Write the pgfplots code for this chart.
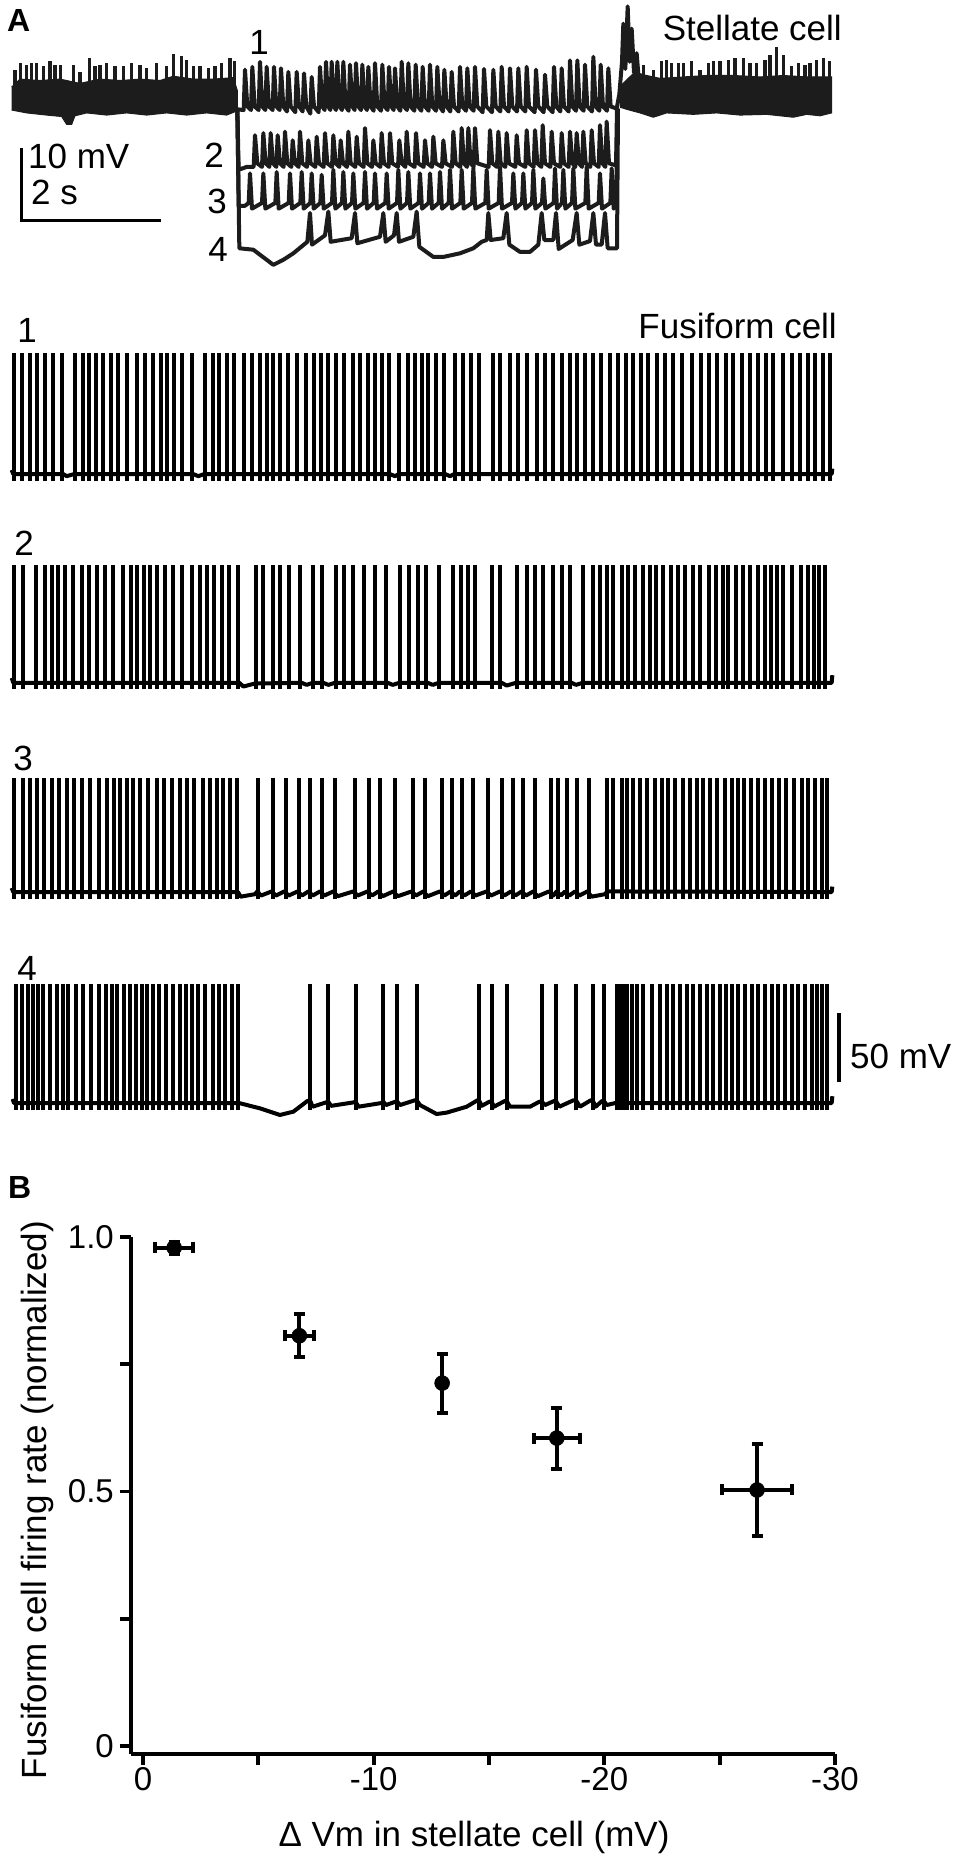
\documentclass[border=0pt]{standalone}
\usepackage{fontspec}
\setmainfont{Liberation Sans}
\usepackage{pgfplots}
\pgfplotsset{compat=1.18}
\definecolor{stel}{RGB}{28,28,28}
\newcommand{\fs}{\fontsize{35}{40}\selectfont}
\pgfplotsset{
  ephys/.style={scale only axis, width=957pt, xmin=0, xmax=2871, hide axis, clip=false, anchor=south west},
  spk/.style={ycomb, black, line width=4pt},
  base/.style={black, line width=4pt, line join=round},
  st/.style={stel, line width=4pt, line join=round},
}
\begin{document}
\begin{tikzpicture}
\useasboundingbox (0,0) rectangle (957pt,-1857pt);

% ---------------- Stellate cell (x: time in 1/210 s samples, y: mV re. rest)
\begin{axis}[ephys, at={(0pt,-285pt)}, height=288pt, ymin=-25, ymax=15]
% noisy band, left
\addplot[fill=stel, draw=stel, line width=1pt] coordinates {
(35,2.5) (60,3.6) (120,3.4) (180,3.6) (240,3.0) (300,3.6) (360,3.4) (420,3.6) (480,3.4) (520,4.0) (580,3.6) (640,3.6) (700,3.8) (712,2.0)
(712,-0.8) (680,-1.4) (620,-1.1) (560,-1.4) (500,-1.1) (440,-1.4) (380,-1.1) (320,-1.4) (260,-1.1) (225,-1.5) (215,-2.7) (200,-2.7) (185,-1.6) (140,-1.4) (80,-1.1) (35,-0.7)};
\addplot[ycomb, stel, line width=3.6pt] coordinates {
(45,4.9) (62,5.9) (80,5.6) (95,5.9) (110,5.9) (130,5.4) (150,6.1) (165,5.6) (182,5.6) (220,5.6) (240,4.6) (268,6.5) (285,5.4) (300,5.6) (320,5.9) (345,5.4) (370,5.4) (395,5.9) (420,5.6) (440,5.2) (470,5.9) (500,5.4) (520,7.1) (545,6.8) (560,6.3) (580,5.4) (600,5.4) (625,5.2) (645,5.4) (665,5.9) (690,6.5) (703,6.1)};
% trace 1 (middle) + large spike
\addplot[st] coordinates {
(712,-0.6)
(731,-0.7) (735,4.9) (742,-0.2) (753,-0.7) (757,5.3) (764,-0.2) (776,-0.7) (780,6.0) (787,-0.2) (796,-0.7) (800,5.3) (807,-0.2)
(818,-0.7) (822,5.3) (829,-0.2) (839,-0.7) (843,5.1) (850,-0.2) (861,-0.9) (865,4.6) (872,-0.2) (886,-1.0) (890,4.6) (897,-0.2)
(908,-0.9) (912,4.4) (919,-0.2) (931,-1.2) (935,3.9) (942,-0.2) (956,-1.0) (960,5.3) (967,-0.2) (974,-0.7) (978,6.0) (985,-0.2)
(991,-0.7) (995,6.0) (1002,-0.2) (1008,-0.7) (1012,6.0) (1019,-0.2) (1026,-0.7) (1030,6.0) (1037,-0.2) (1046,-0.8) (1050,5.6) (1057,-0.2)
(1064,-0.7) (1068,5.8) (1075,-0.2) (1083,-0.7) (1087,5.6) (1094,-0.2) (1101,-0.7) (1105,5.3) (1112,-0.2) (1121,-0.8) (1125,5.8) (1132,-0.2)
(1143,-0.8) (1147,5.6) (1154,-0.2) (1163,-0.7) (1167,5.3) (1174,-0.2) (1181,-0.7) (1185,5.1) (1192,-0.2) (1201,-0.8) (1205,6.0) (1212,-0.2)
(1221,-0.7) (1225,5.8) (1232,-0.2) (1243,-0.8) (1247,5.6) (1254,-0.2) (1264,-0.8) (1268,5.3) (1275,-0.2) (1286,-0.8) (1290,5.6) (1297,-0.2)
(1308,-0.8) (1312,5.3) (1319,-0.2) (1329,-0.9) (1333,4.9) (1340,-0.2) (1351,-0.9) (1355,4.6) (1362,-0.2) (1376,-0.9) (1380,5.3) (1387,-0.2)
(1398,-0.8) (1402,5.1) (1409,-0.2) (1421,-0.8) (1425,5.3) (1432,-0.2) (1448,-1.0) (1452,5.0) (1459,-0.2) (1476,-1.0) (1480,4.9) (1487,-0.2)
(1501,-0.9) (1505,5.3) (1512,-0.2) (1526,-0.9) (1530,5.1) (1537,-0.2) (1551,-0.9) (1555,5.1) (1562,-0.2) (1576,-0.9) (1580,5.3) (1587,-0.2)
(1604,-1.0) (1608,4.9) (1615,-0.2) (1631,-1.0) (1635,4.2) (1642,-0.2) (1658,-1.0) (1662,5.3) (1669,-0.2) (1681,-0.9) (1685,5.1) (1692,-0.2)
(1706,-0.9) (1710,6.2) (1717,-0.2) (1728,-0.8) (1732,6.2) (1739,-0.2) (1751,-0.8) (1755,5.6) (1762,-0.2) (1776,-0.9) (1780,6.7) (1787,-0.2)
(1798,-0.8) (1802,5.6) (1809,-0.2) (1821,-0.8) (1825,5.1) (1832,-0.2)
(1850,-0.5) (1858,1.5) (1866,6) (1870,11.3) (1876,5) (1883,13.7) (1889,6) (1895,10.6) (1902,4.5) (1910,7.2) (1918,2.5) (1930,1.5)};
% noisy band, right
\addplot[fill=stel, draw=stel, line width=1pt] coordinates {
(1858,2.5) (1905,4.6) (1930,4.2) (1980,3.7) (2050,3.9) (2120,4.1) (2200,4.1) (2280,3.9) (2350,4.1) (2420,3.9) (2495,3.9)
(2495,-1.1) (2460,-1.5) (2420,-1.3) (2380,-1.7) (2300,-1.3) (2220,-1.4) (2150,-1.1) (2080,-1.3) (2000,-1.1) (1960,-1.7) (1920,-1.1) (1880,-0.6) (1860,-0.3)};
\addplot[ycomb, stel, line width=3.6pt] coordinates {
(1930,5.6) (1960,4.9) (1985,6.1) (2000,6.3) (2015,5.9) (2035,5.9) (2050,5.9) (2075,6.1) (2100,4.9) (2125,5.9) (2140,6.1) (2160,6.1) (2185,6.3) (2205,6.5) (2230,6.5) (2250,5.9) (2270,5.9) (2295,6.3) (2310,7.0) (2330,8.1) (2350,7.0) (2375,5.4) (2395,5.9) (2415,5.6) (2430,5.9) (2450,6.3) (2470,6.5) (2488,6.1)};
% trace 2
\addplot[st] coordinates {
(712,-0.5) (716,-9.0) (740,-8.6)
(761,-8.6) (765,-4.2) (772,-8.1) (786,-8.6) (790,-3.9) (797,-8.1) (808,-8.6) (812,-3.9) (819,-8.1) (829,-8.6) (833,-4.2) (840,-8.1)
(851,-8.6) (855,-3.7) (862,-8.1) (874,-8.6) (878,-4.9) (885,-8.1) (896,-8.6) (900,-3.7) (907,-8.1) (921,-8.6) (925,-4.9) (932,-8.1)
(946,-8.6) (950,-4.4) (957,-8.1) (971,-8.6) (975,-3.9) (982,-8.1) (996,-8.6) (1000,-4.2) (1007,-8.1) (1018,-8.6) (1022,-4.9) (1029,-8.1)
(1041,-8.6) (1045,-3.7) (1052,-8.1) (1066,-8.6) (1070,-4.4) (1077,-8.1) (1091,-8.6) (1095,-3.2) (1102,-8.1) (1116,-8.6) (1120,-4.9) (1127,-8.1)
(1141,-8.6) (1145,-3.9) (1152,-8.1) (1166,-8.6) (1170,-3.9) (1177,-8.1) (1194,-8.6) (1198,-4.9) (1205,-8.1) (1216,-8.6) (1220,-3.7) (1227,-8.1)
(1244,-8.6) (1248,-3.9) (1255,-8.1) (1271,-8.6) (1275,-4.9) (1282,-8.1) (1296,-8.6) (1300,-4.4) (1307,-8.1) (1326,-8.6) (1330,-4.9) (1337,-8.1)
(1356,-8.6) (1360,-3.7) (1367,-8.1) (1381,-8.6) (1385,-3.2) (1392,-8.1) (1401,-8.6) (1405,-3.2) (1412,-8.1) (1421,-8.6) (1425,-3.2) (1432,-8.1)
(1466,-8.6) (1470,-3.5) (1477,-8.1) (1491,-8.6) (1495,-3.7) (1502,-8.1) (1516,-8.6) (1520,-3.9) (1527,-8.1) (1546,-8.6) (1550,-4.2) (1557,-8.1)
(1576,-8.6) (1580,-3.5) (1587,-8.1) (1601,-8.6) (1605,-3.5) (1612,-8.1) (1624,-8.6) (1628,-2.8) (1635,-8.1) (1651,-8.6) (1655,-3.7) (1662,-8.1)
(1681,-8.6) (1685,-3.9) (1692,-8.1) (1706,-8.6) (1710,-3.7) (1717,-8.1) (1726,-8.6) (1730,-3.9) (1737,-8.1) (1746,-8.6) (1750,-3.7) (1757,-8.1)
(1771,-8.6) (1775,-3.5) (1782,-8.1) (1796,-8.6) (1800,-2.8) (1807,-8.1) (1816,-8.6) (1820,-2.3) (1827,-8.1)
(1848,-8.4) (1851,-0.5)};
% trace 3
\addplot[st] coordinates {
(712,-0.5) (716,-14.0) (735,-14.0)
(746,-13.6) (750,-9.5) (756,-14.4) (786,-13.6) (790,-9.5) (796,-14.4) (826,-13.6) (830,-9.3) (836,-14.4) (866,-13.6) (870,-9.5) (876,-14.4)
(901,-13.6) (905,-9.3) (911,-14.4) (931,-13.6) (935,-9.5) (941,-14.4) (961,-13.6) (965,-9.7) (971,-14.4) (996,-13.6) (1000,-9.0) (1006,-14.4)
(1026,-13.6) (1030,-9.3) (1036,-14.4) (1056,-13.6) (1060,-9.5) (1066,-14.4) (1091,-13.6) (1095,-9.3) (1101,-14.4) (1121,-13.6) (1125,-9.5) (1131,-14.4)
(1156,-13.6) (1160,-9.5) (1166,-14.4) (1191,-13.6) (1195,-9.0) (1201,-14.4) (1221,-13.6) (1225,-9.3) (1231,-14.4) (1256,-13.6) (1260,-9.5) (1266,-14.4)
(1286,-13.6) (1290,-9.5) (1296,-14.4) (1316,-13.6) (1320,-9.3) (1326,-14.4) (1346,-13.6) (1350,-9.0) (1356,-14.4) (1381,-13.6) (1385,-9.0) (1391,-14.4)
(1416,-13.6) (1420,-8.8) (1426,-14.4) (1456,-13.6) (1460,-9.0) (1466,-14.4) (1496,-13.6) (1500,-8.6) (1506,-14.4) (1536,-13.6) (1540,-9.5) (1546,-14.4)
(1566,-13.6) (1570,-9.5) (1576,-14.4) (1596,-13.6) (1600,-9.0) (1606,-14.4) (1626,-13.6) (1630,-10.2) (1636,-14.4) (1661,-13.6) (1665,-8.8) (1671,-14.4)
(1686,-13.6) (1690,-9.0) (1696,-14.4) (1716,-13.6) (1720,-8.8) (1726,-14.4) (1756,-13.6) (1760,-8.6) (1766,-14.4) (1796,-13.6) (1800,-9.5) (1806,-14.4)
(1831,-13.6) (1835,-8.8) (1841,-14.4) (1849,-14.0) (1852,-0.5)};
% trace 4
\addplot[st] coordinates {
(712,-0.5) (718,-19.9) (760,-20.1) (800,-21.5) (820,-22.2) (850,-21.5) (880,-20.6) (922,-19.0) (930,-15.0) (936,-19.4) (975,-18.1) (985,-14.8) (992,-19.0)
(1055,-18.5) (1065,-15.0) (1072,-19.2) (1140,-18.3) (1150,-15.0) (1157,-19.0) (1182,-18.1) (1190,-15.0) (1197,-19.0) (1240,-18.3) (1250,-14.8) (1258,-19.7)
(1300,-21.1) (1330,-21.1) (1380,-20.6) (1420,-19.9) (1445,-19.0) (1460,-18.75) (1465,-15.0) (1472,-18.75) (1510,-18.5) (1520,-15.0) (1528,-19.4)
(1560,-20.4) (1590,-20.4) (1615,-19.4) (1625,-15.0) (1633,-18.75) (1660,-18.75) (1668,-15.0) (1676,-20.0) (1718,-18.75) (1730,-15.0) (1738,-19.4)
(1770,-18.9) (1780,-15.0) (1788,-19.4) (1805,-19.4) (1815,-15.0) (1823,-19.9) (1845,-19.9) (1851,-19.9) (1854,-0.5)};
% scale bar: 10 mV, 2 s (420 samples)
\addplot[black, line width=3pt] coordinates {(63,-6) (63,-16) (483,-16)};
\end{axis}

% ---------------- Fusiform cell, trace 1 (y: mV above AHP trough)
\begin{axis}[ephys, at={(0pt,-481pt)}, height=138pt, ymin=0, ymax=100]
\addplot[base] coordinates {(35,8) (40,5) (190,5) (200,3.5) (222,5) (580,5) (595,3.5) (612,5) (1170,5) (1185,3.5) (1196,5) (1336,5) (1350,3.5) (1362,5) (2495,5) (2497,9)};
\addplot[spk] coordinates {
(42,93) (65,93) (90,93) (112,93) (135,93) (160,93) (187,93) (225,93) (248,93) (268,93) (287,93) (308,93) (333,93) (355,93) (380,93) (410,93)
(435,93) (458,93) (482,93) (502,93) (522,93) (547,93) (577,93) (615,93) (638,93) (657,93) (680,93) (703,93) (733,93) (757,93) (780,93) (800,93)
(820,93) (840,93) (863,93) (890,93) (918,93) (942,93) (963,93) (985,93) (1008,93) (1033,93) (1058,93) (1080,93) (1103,93) (1125,93) (1145,93) (1168,93)
(1198,93) (1225,93) (1245,93) (1265,93) (1285,93) (1308,93) (1333,93) (1365,93) (1388,93) (1413,93) (1437,93)
(1478,93) (1500,93) (1530,93) (1553,93) (1580,93) (1610,93) (1635,93) (1660,93) (1685,93) (1710,93) (1732,93) (1755,93) (1780,93) (1803,93)
(1830,93) (1853,93) (1877,93) (1898,93) (1923,93) (1945,93) (1970,93) (1995,93) (2020,93) (2047,93) (2077,93) (2102,93) (2128,93) (2150,93)
(2177,93) (2200,93) (2225,93) (2250,93) (2275,93) (2298,93) (2320,93) (2348,93) (2377,93) (2400,93) (2425,93) (2445,93) (2470,93) (2490,93)};
\end{axis}

% ---------------- Fusiform cell, trace 2
\begin{axis}[ephys, at={(0pt,-689pt)}, height=138pt, ymin=0, ymax=100]
\addplot[base] coordinates {(35,8) (40,4.5) (718,4.5) (730,1.8) (765,4) (905,4.5) (920,3) (938,4.5) (970,4.5) (985,3) (1005,4.5) (1163,4.5) (1178,3) (1198,4.5) (1283,4.5) (1298,3) (1316,4.5) (1505,4.5) (1520,2.5) (1548,4.5) (1715,4.5) (1728,3) (1748,4.5) (2495,4.5) (2497,10)};
\addplot[spk] coordinates {
(42,90) (70,90) (108,90) (135,90) (155,90) (175,90) (195,90) (220,90) (245,90) (268,90) (290,90) (315,90) (340,90) (370,90) (392,90) (410,90)
(432,90) (450,90) (470,90) (495,90) (520,90) (547,90) (575,90) (600,90) (622,90) (643,90) (665,90) (688,90) (715,90) (768,90) (790,90) (818,90)
(840,90) (868,90) (900,90) (940,90) (965,90) (1008,90) (1033,90) (1058,90) (1093,90) (1125,90) (1158,90) (1200,90) (1228,90) (1255,90) (1278,90)
(1318,90) (1360,90) (1383,90) (1405,90) (1425,90)
(1475,90) (1500,90) (1550,90) (1582,90) (1605,90) (1630,90) (1658,90) (1685,90) (1710,90) (1750,90) (1780,90) (1800,90) (1820,90) (1840,90)
(1865,90) (1885,90) (1905,90) (1930,90) (1950,90) (1968,90) (1990,90) (2012,90) (2035,90) (2055,90) (2078,90) (2100,90) (2128,90) (2148,90)
(2168,90) (2185,90) (2208,90) (2230,90) (2250,90) (2275,90) (2295,90) (2312,90) (2330,90) (2350,90) (2375,90) (2402,90) (2425,90) (2443,90) (2458,90) (2475,90)};
\end{axis}

% ---------------- Fusiform cell, trace 3
\begin{axis}[ephys, at={(0pt,-899pt)}, height=138pt, ymin=0, ymax=100]
\addplot[base] coordinates {(35,8) (40,5) (714,5) (722,1.7) (765,3.5) (772,5.5) (783,2.5) (815,5.5) (828,2.5) (853,5.5) (866,2.5) (893,5.5) (906,2.5) (925,5.5) (938,2.5) (960,5.5) (973,2.5) (1000,5.5) (1013,2) (1060,5.5) (1073,2.5) (1103,5.5) (1116,2.5) (1135,5.5) (1148,2) (1180,5.5) (1193,2) (1235,5.5) (1248,2.5) (1270,5.5) (1283,2) (1320,5.5) (1333,2.5) (1352,5.5) (1365,2.5) (1380,5.5) (1393,2.5) (1413,5.5) (1426,2.5) (1460,5.5) (1473,2.5) (1500,5.5) (1513,2.5) (1533,5.5) (1546,2.5) (1565,5.5) (1578,2.5) (1600,5.5) (1613,2) (1647,5.5) (1660,2.5) (1670,5.5) (1683,2.5) (1695,5.5) (1708,2.5) (1725,5.5) (1738,2.5) (1762,5.5) (1775,1.7) (1815,3.5) (1822,5.5) (2495,5) (2497,9)};
\addplot[spk] coordinates {
(42,88) (68,88) (90,88) (110,88) (133,88) (155,88) (178,88) (200,88) (222,88) (245,88) (270,88) (298,88) (322,88) (343,88) (360,88) (380,88)
(398,88) (420,88) (445,88) (470,88) (492,88) (515,88) (540,88) (560,88) (582,88) (610,88) (630,88) (650,88) (670,88) (690,88) (712,88)
(775,88) (820,88) (858,88) (898,88) (930,88) (965,88) (1005,88) (1065,88) (1108,88) (1140,88) (1185,88) (1240,88) (1275,88) (1325,88) (1357,88)
(1385,88) (1418,88) (1465,88) (1505,88) (1538,88) (1570,88) (1605,88) (1652,88) (1675,88) (1700,88) (1730,88) (1767,88)
(1822,88) (1840,88) (1865,88) (1880,88) (1900,88) (1920,88) (1940,88) (1965,88) (1985,88) (2005,88) (2025,88) (2048,88) (2070,88) (2092,88)
(2110,88) (2130,88) (2152,88) (2175,88) (2195,88) (2215,88) (2232,88) (2252,88) (2273,88) (2295,88) (2315,88) (2337,88) (2358,88) (2382,88)
(2405,88) (2425,88) (2445,88) (2465,88) (2482,88)};
\end{axis}

% ---------------- Fusiform cell, trace 4
\begin{axis}[ephys, at={(0pt,-1110pt)}, height=138pt, ymin=0, ymax=100]
\addplot[base] coordinates {(38,8) (42,5) (718,5) (780,1.2) (840,-3.6) (880,-1.2) (922,6.5) (930,7) (938,2.4) (978,5.5) (985,6) (993,3) (1060,5.5) (1067,6) (1075,2.4) (1143,5) (1150,6) (1158,3.6) (1186,6) (1192,6) (1200,3.6) (1244,7) (1250,7) (1260,3.6) (1310,-2.9) (1340,-1.9) (1400,2.4) (1432,7) (1437,7) (1445,3) (1468,6) (1475,6) (1482,2.4) (1514,6.5) (1520,6.5) (1530,2.4) (1590,2.4) (1618,6) (1625,6) (1635,3.6) (1662,6.5) (1668,6.5) (1678,2.4) (1720,7) (1728,7) (1740,2.4) (1772,7) (1778,7) (1787,2.4) (1806,6.5) (1812,6.5) (1820,3.6) (1845,5) (2495,5) (2497,10)};
\addplot[spk] coordinates {
(48,91) (65,91) (85,91) (100,91) (115,91) (130,91) (150,91) (170,91) (188,91) (205,91) (228,91) (248,91) (272,91) (298,91) (318,91) (335,91)
(352,91) (372,91) (390,91) (408,91) (425,91) (440,91) (458,91) (477,91) (497,91) (518,91) (540,91) (558,91) (575,91) (595,91) (615,91) (640,91)
(658,91) (676,91) (695,91) (714,91)
(930,91) (985,91) (1067,91) (1150,91) (1192,91) (1250,91) (1437,91) (1475,91) (1520,91) (1625,91) (1668,91) (1728,91) (1778,91) (1812,91)
(1850,91) (1860,91) (1870,91) (1880,91) (1895,91) (1910,91) (1930,91) (1955,91) (1980,91) (2000,91) (2020,91) (2040,91) (2060,91)
(2080,91) (2100,91) (2120,91) (2140,91) (2160,91) (2178,91) (2195,91) (2215,91) (2235,91) (2255,91) (2275,91) (2295,91) (2315,91) (2335,91)
(2355,91) (2375,91) (2395,91) (2415,91) (2435,91) (2450,91) (2465,91) (2480,91)};
% scale bar: 50 mV
\addplot[black, line width=3.3pt] coordinates {(2517,20.3) (2517,70.3)};
\end{axis}

% ---------------- Panel B
\begin{axis}[at={(131pt,-1754pt)}, anchor=south west, scale only axis,
  width=704pt, height=517pt, x dir=reverse,
  xmin=-30, xmax=0.52, ymin=-0.0157, ymax=1,
  axis x line*=bottom, axis y line*=left,
  axis line style={-, line width=3.8pt, black},
  xtick={-30,-25,-20,-15,-10,-5,0}, xticklabels={-30,,-20,,-10,,0},
  ytick={0,0.25,0.5,0.75,1}, yticklabels={0,,0.5,,1.0},
  tick align=outside, major tick length=11pt,
  tick style={line width=3.8pt, black},
  tick label style={font=\fontsize{33}{38}\selectfont},
  xticklabel style={inner sep=2pt},
  yticklabel style={inner sep=6pt},
  clip=false]
\addplot[black, only marks, mark=*, mark size=7.5pt, mark options={fill=black, draw=black, line width=0.5pt},
  error bars/.cd, x dir=both, x explicit, y dir=both, y explicit,
  error bar style={line width=4pt, black},
  error mark options={rotate=90, line width=4pt, mark size=5.5pt, black}]
  table[x=x, y=y, x error=ex, y error=ey] {
  x       y      ex    ey
  -1.35   0.979  0.82  0.012
  -6.78   0.806  0.63  0.042
  -12.97  0.713  0.15  0.058
  -17.94  0.605  1.01  0.060
  -26.62  0.503  1.52  0.090
};
\end{axis}

% ---------------- Text
\node[anchor=base west, inner sep=0, font=\fontsize{32}{36}\selectfont\bfseries] at (7pt,-32pt) {A};
\node[anchor=base, inner sep=0, font=\fs] at (259pt,-55pt) {1};
\node[anchor=base east, inner sep=0, font=\fs] at (842pt,-41pt) {Stellate cell};
\node[anchor=base, inner sep=0, font=\fs] at (214pt,-167pt) {2};
\node[anchor=base, inner sep=0, font=\fs] at (217pt,-213pt) {3};
\node[anchor=base, inner sep=0, font=\fs] at (218pt,-261pt) {4};
\node[anchor=base west, inner sep=0, font=\fs] at (28pt,-168pt) {10 mV};
\node[anchor=base west, inner sep=0, font=\fs] at (31pt,-204pt) {2 s};
\node[anchor=base, inner sep=0, font=\fs] at (27pt,-342pt) {1};
\node[anchor=base east, inner sep=0, font=\fs] at (837pt,-338pt) {Fusiform cell};
\node[anchor=base, inner sep=0, font=\fs] at (24pt,-555pt) {2};
\node[anchor=base, inner sep=0, font=\fs] at (23pt,-770pt) {3};
\node[anchor=base, inner sep=0, font=\fs] at (27pt,-980pt) {4};
\node[anchor=base west, inner sep=0, font=\fs] at (850pt,-1068pt) {50 mV};
\node[anchor=base west, inner sep=0, font=\fontsize{32}{36}\selectfont\bfseries] at (8pt,-1198pt) {B};
\node[rotate=90, anchor=center, inner sep=0, font=\fs] at (37pt,-1500pt) {Fusiform cell firing rate (normalized)};
\node[anchor=base, inner sep=0, font=\fs] at (474pt,-1846pt) {Δ Vm in stellate cell (mV)};
\end{tikzpicture}
\end{document}
